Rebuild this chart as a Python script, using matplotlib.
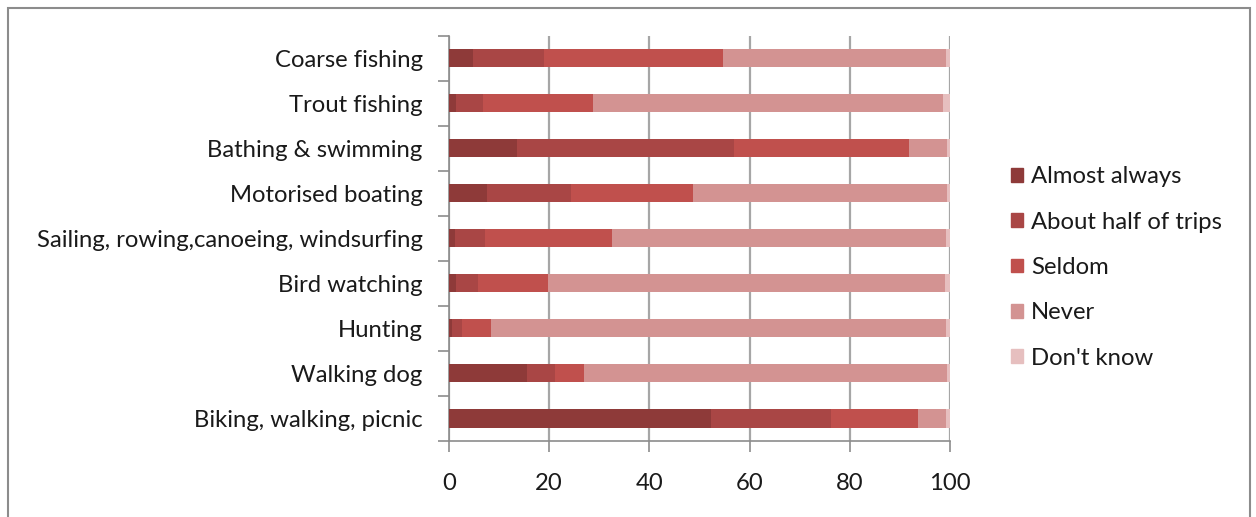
import numpy as np
import matplotlib.pyplot as plt
from matplotlib.patches import Rectangle, Patch
from matplotlib.ticker import FixedLocator

plt.rcParams['font.family'] = ['Lato', 'DejaVu Sans']

# categories listed bottom to top
activities = ['Biking, walking, picnic', 'Walking dog', 'Hunting', 'Bird watching',
              'Sailing, rowing,canoeing, windsurfing', 'Motorised boating',
              'Bathing & swimming', 'Trout fishing', 'Coarse fishing']
almost_always = [52.2, 15.6, 0.5, 1.3, 1.1, 7.5, 13.6, 1.3, 4.7]
about_half = [24.0, 5.6, 2.0, 4.4, 6.1, 16.9, 43.3, 5.4, 14.2]
seldom = [17.3, 5.7, 5.8, 14.1, 25.3, 24.3, 34.8, 22.0, 35.7]
never = [5.6, 72.5, 90.8, 79.1, 66.6, 50.7, 7.7, 69.8, 44.5]
dont_know = [0.9, 0.6, 0.9, 1.1, 0.9, 0.6, 0.6, 1.5, 0.9]

series = [almost_always, about_half, seldom, never, dont_know]
names = ['Almost always', 'About half of trips', 'Seldom', 'Never', "Don't know"]
colors = ['#8e3a39', '#a94645', '#c0504d', '#d39392', '#e6bfbf']

fs = 17.2

fig = plt.figure(figsize=(12.56, 5.17), dpi=100)
ax = fig.add_axes([0.3575, 0.147, 0.399, 0.7834])

y = np.arange(len(activities))
left = np.zeros(len(activities))
for vals, c in zip(series, colors):
    ax.barh(y, vals, left=left, height=0.4, color=c, zorder=3)
    left += np.array(vals)

ax.set_xlim(0, 100)
ax.set_ylim(-0.5, len(activities) - 0.5)
ax.set_xticks([0, 20, 40, 60, 80, 100])
ax.set_yticks(y)
ax.set_yticklabels(activities)
ax.yaxis.set_minor_locator(FixedLocator(np.arange(-0.5, len(activities), 1.0)))
ax.tick_params(axis='y', which='major', length=0, pad=19, labelsize=fs, labelcolor='#1a1a1a')
ax.tick_params(axis='y', which='minor', length=8, color='#8c8c8c', width=1.2)
ax.tick_params(axis='x', length=8, color='#8c8c8c', width=1.2, pad=15, labelsize=fs,
               labelcolor='#1a1a1a')
ax.grid(axis='x', color='#a6a6a6', linewidth=1.6, zorder=0)
for s in ['top', 'right']:
    ax.spines[s].set_visible(False)
for s in ['left', 'bottom']:
    ax.spines[s].set_color('#8c8c8c')
    ax.spines[s].set_linewidth(1.2)

handles = [Patch(color=c, label=n) for c, n in zip(colors, names)]
fig.legend(handles=handles, loc='upper left', bbox_to_anchor=(0.788, 0.72),
           frameon=False, fontsize=fs, handlelength=0.5, handleheight=0.5,
           handletextpad=0.33, labelspacing=1.02, labelcolor='#1a1a1a')

fig.patches.append(Rectangle((8 / 1256, -0.1), 1242 / 1256, 1.1 - 8 / 517,
                             transform=fig.transFigure, fill=False,
                             edgecolor='#8c8c8c', linewidth=1.5))

fig.savefig('out.png', dpi=100)
